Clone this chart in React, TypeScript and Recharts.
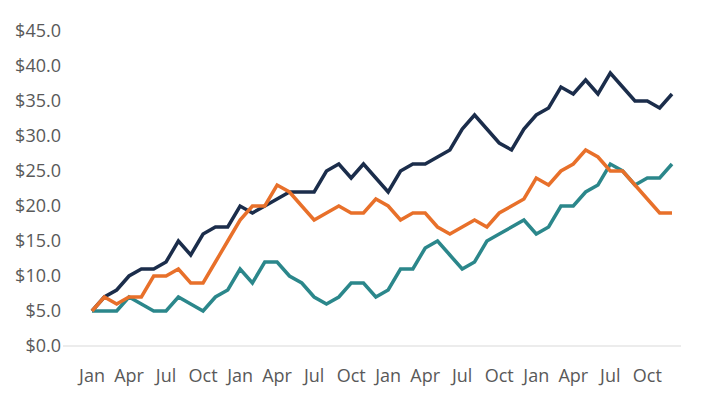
import { LineChart, Line, XAxis, YAxis } from "recharts";

const months = ["Jan", "Feb", "Mar", "Apr", "May", "Jun", "Jul", "Aug", "Sep", "Oct", "Nov", "Dec"];
const categories = [...months, ...months, ...months, ...months];

const navy = [
  5, 7, 8, 10, 11, 11, 12, 15, 13, 16, 17, 17,
  20, 19, 20, 21, 22, 22, 22, 25, 26, 24, 26, 24,
  22, 25, 26, 26, 27, 28, 31, 33, 31, 29, 28, 31,
  33, 34, 37, 36, 38, 36, 39, 37, 35, 35, 34, 36,
];
const orange = [
  5, 7, 6, 7, 7, 10, 10, 11, 9, 9, 12, 15,
  18, 20, 20, 23, 22, 20, 18, 19, 20, 19, 19, 21,
  20, 18, 19, 19, 17, 16, 17, 18, 17, 19, 20, 21,
  24, 23, 25, 26, 28, 27, 25, 25, 23, 21, 19, 19,
];
const teal = [
  5, 5, 5, 7, 6, 5, 5, 7, 6, 5, 7, 8,
  11, 9, 12, 12, 10, 9, 7, 6, 7, 9, 9, 7,
  8, 11, 11, 14, 15, 13, 11, 12, 15, 16, 17, 18,
  16, 17, 20, 20, 22, 23, 26, 25, 23, 24, 24, 26,
];
const yTicks = [0, 5, 10, 15, 20, 25, 30, 35, 40, 45];

const data = categories.map((name, i) => ({
  name,
  navy: navy[i],
  orange: orange[i],
  teal: teal[i],
}));

const font = "'Open Sans', sans-serif";

export default function App() {
  return (
    <div style={{ position: "absolute", left: 0, top: 0, background: "#fff" }}>
      <LineChart
        width={708}
        height={401}
        data={data}
        margin={{ top: 31, right: 27, bottom: 25, left: 8 }}
      >
        <XAxis
          dataKey="name"
          interval={2}
          tickLine={false}
          tickSize={0}
          tickMargin={23}
          height={30}
          padding={{ left: 29, right: 9 }}
          axisLine={{ stroke: "#d9d9d9", strokeWidth: 1 }}
          tick={{ fill: "#595959", fontSize: 18, fontFamily: font }}
        />
        <YAxis
          domain={[0, 45]}
          ticks={yTicks}
          width={55}
          axisLine={false}
          tickLine={false}
          tickSize={0}
          tickMargin={2}
          tickFormatter={(v: number) => `$${v.toFixed(1)}`}
          tick={{ fill: "#595959", fontSize: 18, fontFamily: font }}
        />
        <Line
          type="linear"
          dataKey="navy"
          stroke="#1b2d4b"
          strokeWidth={3.5}
          dot={false}
          isAnimationActive={false}
        />
        <Line
          type="linear"
          dataKey="teal"
          stroke="#2b878b"
          strokeWidth={3.5}
          dot={false}
          isAnimationActive={false}
        />
        <Line
          type="linear"
          dataKey="orange"
          stroke="#e8702a"
          strokeWidth={3.5}
          dot={false}
          isAnimationActive={false}
        />
      </LineChart>
    </div>
  );
}
